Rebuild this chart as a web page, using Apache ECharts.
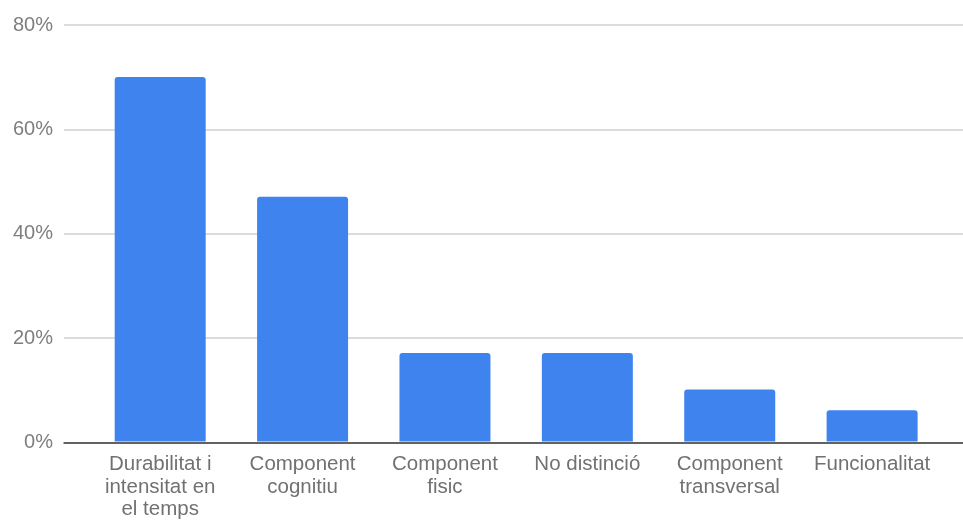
<!DOCTYPE html>
<html>
<head>
<meta charset="utf-8">
<script src="https://cdn.jsdelivr.net/npm/echarts@6/dist/echarts.min.js"></script>
<style>
html,body{margin:0;padding:0;background:#fff;}
#chart{width:963px;height:521px;}
</style>
</head>
<body>
<div id="chart"></div>
<script>
const categories = [
  "Durabilitat i\nintensitat en\nel temps",
  "Component\ncognitiu",
  "Component\nfisic",
  "No distinció",
  "Component\ntransversal",
  "Funcionalitat"
];
const values = [70, 47, 17, 17, 10, 6];
const yMin = 0;
const yMax = 80;
const yStep = 20;

const chart = echarts.init(document.getElementById('chart'), null, {renderer: 'canvas'});
const font = 'Liberation Sans, Arial, sans-serif';
chart.setOption({
  animation: false,
  backgroundColor: '#ffffff',
  grid: [
    {left: 64, right: 0, top: 25, bottom: 78.5},
    {left: 89, right: 19.7, top: 25, bottom: 78.5}
  ],
  xAxis: [
    {
      gridIndex: 0, type: 'value', min: 0, max: 1, z: 5,
      axisLine: {show: true, onZero: false, lineStyle: {color: '#3a3a3a', width: 1.5}},
      axisTick: {show: false}, axisLabel: {show: false}, splitLine: {show: false}
    },
    {
      gridIndex: 1, type: 'category', data: categories,
      axisLine: {show: false}, axisTick: {show: false},
      axisLabel: {
        interval: 0, margin: 12, color: '#717171', fontFamily: font,
        fontSize: 20.5, lineHeight: 22.5
      }
    }
  ],
  yAxis: [
    {
      gridIndex: 0, type: 'value', min: yMin, max: yMax, interval: yStep,
      axisLine: {show: false}, axisTick: {show: false},
      axisLabel: {margin: 11, color: '#7e7e7e', fontFamily: font, fontSize: 20, formatter: '{value}%'},
      splitLine: {show: true, lineStyle: {color: '#d0d0d0', width: 1.5}}
    },
    {
      gridIndex: 1, type: 'value', min: yMin, max: yMax, interval: yStep,
      show: false, splitLine: {show: false}
    }
  ],
  series: [{
    type: 'bar',
    xAxisIndex: 1, yAxisIndex: 1,
    data: values,
    barWidth: 91,
    itemStyle: {color: '#3f83ef', borderRadius: [3, 3, 0, 0]}
  }]
});
</script>
</body>
</html>
